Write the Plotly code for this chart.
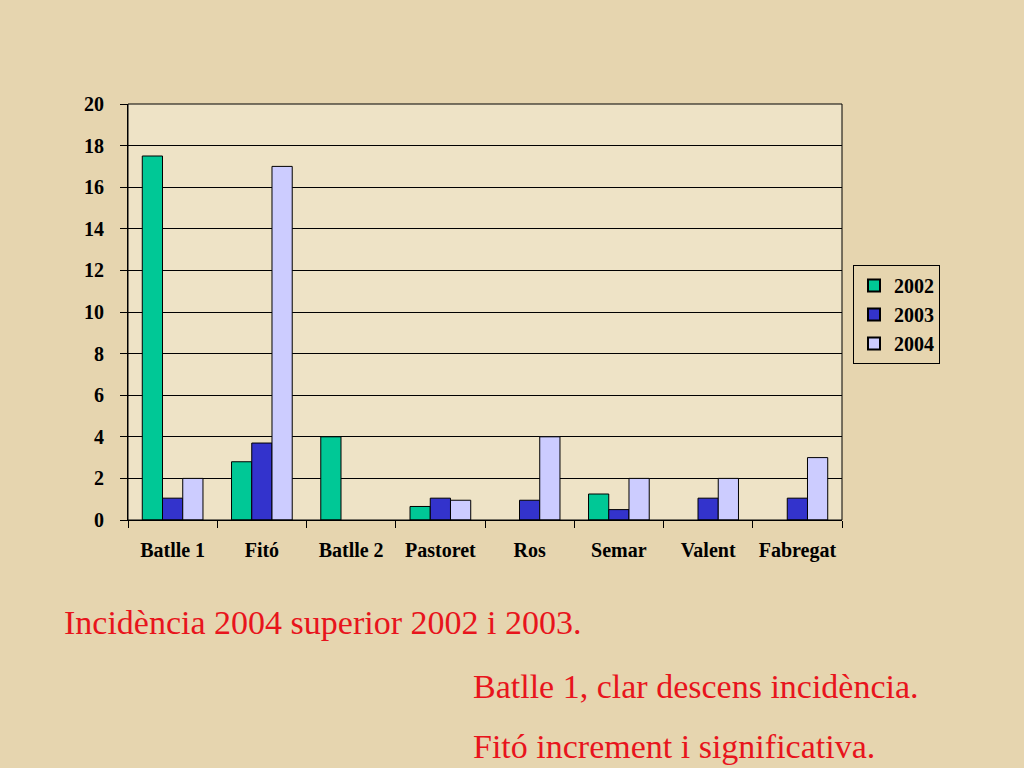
import plotly.graph_objects as go

# --- Data ---
categories = ["Batlle 1", "Fitó", "Batlle 2", "Pastoret", "Ros", "Semar", "Valent", "Fabregat"]
vals_2002 = [17.5, 2.8, 4.0, 0.65, None, 1.25, None, None]
vals_2003 = [1.05, 3.7, None, 1.05, 0.95, 0.5, 1.05, 1.05]
vals_2004 = [2.0, 17.0, None, 0.95, 4.0, 2.0, 2.0, 3.0]
years = ["2002", "2003", "2004"]
y_ticks = list(range(0, 21, 2))

notes = [
    "Incidència 2004 superior 2002 i 2003.",
    "Batlle 1, clar descens incidència.",
    "Fitó increment i significativa.",
]

colors = ["#00C896", "#3333CC", "#CCCCFF"]
serif = "Liberation Serif, Times New Roman, serif"

W, H = 1024, 768
L, R, T, B = 128, 182, 104, 248

fig = go.Figure()
for name, vals, col in zip(years, [vals_2002, vals_2003, vals_2004], colors):
    fig.add_trace(go.Bar(
        x=categories, y=vals, name=name,
        marker=dict(color=col, line=dict(color="black", width=1)),
    ))

fig.update_layout(
    width=W, height=H,
    barmode="group", bargap=0.32, bargroupgap=0,
    paper_bgcolor="#E6D5AF",
    plot_bgcolor="#EEE3C6",
    margin=dict(l=L, r=R, t=T, b=B),
    font=dict(family=serif, color="black", size=19),
    showlegend=True,
    legend=dict(
        x=(853 - L) / (W - L - R), y=(H - B - 265) / (H - T - B),
        xanchor="left", yanchor="top",
        bgcolor="rgba(0,0,0,0)", bordercolor="black", borderwidth=1,
        font=dict(family=serif, size=20, color="black", weight="bold"),
        traceorder="normal", itemsizing="constant", tracegroupgap=2,
    ),
)

fig.update_xaxes(
    showline=True, linecolor="black", linewidth=1,
    ticks="outside", tickson="boundaries", ticklen=7, tickcolor="black",
    tickfont=dict(family=serif, size=20, weight="bold"),
    ticklabelstandoff=12,
    showgrid=False,
)
fig.update_yaxes(
    range=[0, 20], tickvals=y_ticks,
    showline=True, linecolor="black", linewidth=1,
    ticks="outside", ticklen=7, tickcolor="black",
    tickfont=dict(family=serif, size=20, weight="bold"),
    ticklabelstandoff=12,
    showgrid=True, gridcolor="black", gridwidth=1,
    zeroline=False,
)

# plot area border on top and right
fig.add_shape(type="rect", xref="paper", yref="paper", x0=0, y0=0, x1=1, y1=1,
              line=dict(color="black", width=1), fillcolor="rgba(0,0,0,0)")

# red notes below the chart (pixel positions of the text centre lines)
note_px = [(62, 622), (471, 686), (471, 746)]
for txt, (px_x, px_y) in zip(notes, note_px):
    fig.add_annotation(
        text=txt, xref="paper", yref="paper",
        x=(px_x - L) / (W - L - R),
        y=(H - B - px_y) / (H - T - B),
        xanchor="left", yanchor="middle", showarrow=False,
        font=dict(family=serif, size=34, color="#E8141C"),
    )

fig.write_html("out.html", config={"displayModeBar": False},
               post_script="document.body.style.margin='0';")
